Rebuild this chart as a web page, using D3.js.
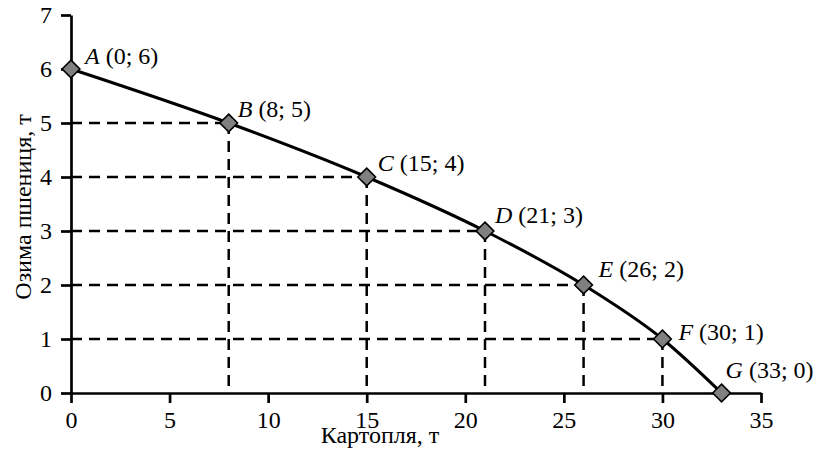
<!DOCTYPE html>
<html><head><meta charset="utf-8">
<script src="https://cdn.jsdelivr.net/npm/d3@7"></script>
<style>
body{margin:0;background:#fff;}
</style></head>
<body>
<svg id="chart" width="821" height="459"></svg>
<script>
// Data
const pointNames = ["A","B","C","D","E","F","G"];
const potatoes = [0, 8, 15, 21, 26, 30, 33];
const wheat = [6, 5, 4, 3, 2, 1, 0];
const xTicks = [0, 5, 10, 15, 20, 25, 30, 35];
const yTicks = [0, 1, 2, 3, 4, 5, 6, 7];
const xTitle = "Картопля, т";
const yTitle = "Озима пшениця, т";

// Layout (label offsets in px, not data)
const labelDx = [14, 9, 11, 10, 15, 16, 4];
const labelDy = [-5, -6, -6, -8, -8, 1, -15];

const FONT = "'Liberation Serif', 'Times New Roman', serif";
const fs = "24px";

const svg = d3.select("#chart");
const W = 821, H = 459;
const m = {left: 71, right: 60, top: 15, bottom: 66};
const x = d3.scaleLinear().domain([0, 35]).range([m.left, W - m.right]);
const y = d3.scaleLinear().domain([0, 7]).range([H - m.bottom, m.top]);

const pts = potatoes.map((p, i) => ({name: pointNames[i], x: p, y: wheat[i]}));

// dashed guide lines
const g = svg.append("g");
pts.forEach(d => {
  if (d.x > 0 && d.y > 0) {
    g.append("line").attr("x1", x(0)).attr("x2", x(d.x)).attr("y1", y(d.y)).attr("y2", y(d.y))
      .attr("stroke", "#000").attr("stroke-width", 2.5).attr("stroke-dasharray", "11,7");
    g.append("line").attr("x1", x(d.x)).attr("x2", x(d.x)).attr("y1", y(d.y)).attr("y2", y(0))
      .attr("stroke", "#000").attr("stroke-width", 2.5).attr("stroke-dasharray", "11,7");
  }
});

// axes
const xAxis = svg.append("g").attr("transform", `translate(0,${y(0)})`)
  .call(d3.axisBottom(x).tickValues(xTicks).tickFormat(d3.format("d")).tickSize(10).tickSizeOuter(0).tickPadding(8));
const yAxis = svg.append("g").attr("transform", `translate(${x(0)},0)`)
  .call(d3.axisLeft(y).tickValues(yTicks).tickFormat(d3.format("d")).tickSize(10).tickSizeOuter(0).tickPadding(9));
[xAxis, yAxis].forEach(a => {
  a.select(".domain").attr("stroke", "#000").attr("stroke-width", 2.7);
  a.selectAll(".tick line").attr("stroke", "#000").attr("stroke-width", 2.7);
  a.selectAll(".tick text").style("font-size", fs).style("font-family", FONT).attr("fill", "#000");
});

// curve
svg.append("path").datum(pts)
  .attr("d", d3.line().x(d => x(d.x)).y(d => y(d.y)).curve(d3.curveMonotoneX))
  .attr("fill", "none").attr("stroke", "#000").attr("stroke-width", 3);

// markers
svg.selectAll(".mk").data(pts).enter().append("path")
  .attr("d", d3.symbol().type(d3.symbolDiamond2).size(200))
  .attr("transform", d => `translate(${x(d.x)},${y(d.y)})`)
  .attr("fill", "#808080").attr("stroke", "#000").attr("stroke-width", 1.6);

// labels
pts.forEach((d, i) => {
  const t = svg.append("text").attr("x", x(d.x) + labelDx[i]).attr("y", y(d.y) + labelDy[i])
    .style("font-size", fs).style("font-family", FONT).attr("fill", "#000");
  t.append("tspan").style("font-style", "italic").text(d.name);
  t.append("tspan").text(` (${d.x}; ${d.y})`);
});

// titles
svg.append("text").attr("x", 380).attr("y", 443).attr("text-anchor", "middle")
  .style("font-size", fs).style("font-family", FONT).attr("fill", "#000").text(xTitle);
svg.append("text").attr("transform", `translate(31,${(y(0) + y(7)) / 2 + 3}) rotate(-90)`)
  .attr("text-anchor", "middle").style("font-size", fs).style("font-family", FONT).attr("fill", "#000").text(yTitle);
</script>
</body></html>
